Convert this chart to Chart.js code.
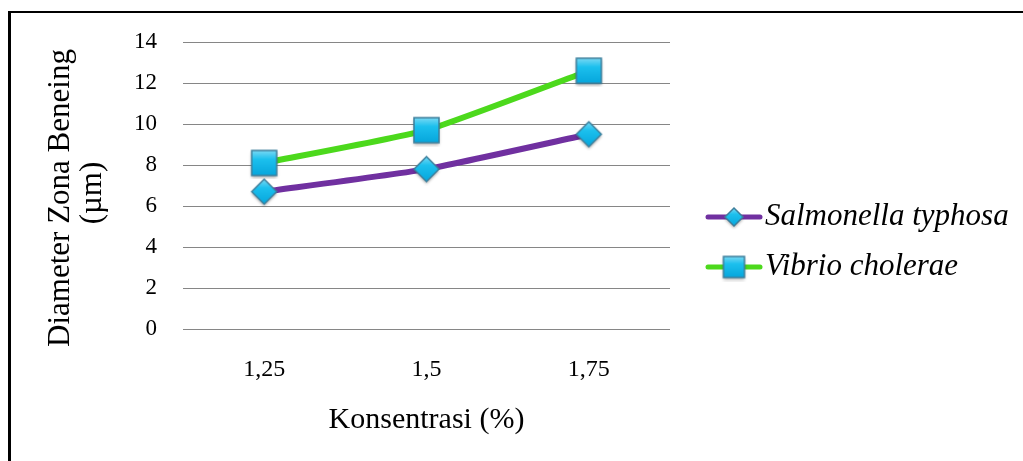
<!DOCTYPE html>
<html>
<head>
<meta charset="utf-8">
<script src="https://cdn.jsdelivr.net/npm/chart.js@4.4.1/dist/chart.umd.min.js"></script>
<style>
  html, body { margin: 0; padding: 0; background: #fff; overflow: hidden; }
  #wrap { position: relative; width: 1023px; height: 461px; }
  #frame { position: absolute; left: 8px; top: 11px; width: 1100px; height: 500px;
           border-left: 3px solid #000; border-top: 2px solid #000; pointer-events: none; }
  canvas { position: absolute; left: 0; top: 0; }
</style>
</head>
<body>
<div id="wrap">
  <canvas id="c" width="1023" height="461"></canvas>
  <div id="frame"></div>
</div>
<script>
const categories = ['1,25', '1,5', '1,75'];
const salmonellaValues = [6.7, 7.8, 9.5];
const vibrioValues = [8.1, 9.7, 12.6];
const seriesNames = ['Salmonella typhosa', 'Vibrio cholerae'];
const yTicks = [0, 2, 4, 6, 8, 10, 12, 14];
const yTitle = ['Diameter Zona Beneing', '(\u00b5m)'];
const xTitle = 'Konsentrasi (%)';

const FONT = '"Liberation Serif", "Times New Roman", serif';

function makeMarker(kind, size) {
  const pad = 4;
  const cv = document.createElement('canvas');
  cv.width = size + pad * 2; cv.height = size + pad * 2;
  const g = cv.getContext('2d');
  const c = cv.width / 2, h = size / 2;
  function path() {
    g.beginPath();
    if (kind === 'square') {
      g.rect(c - h, c - h, size, size);
    } else {
      g.moveTo(c, c - h); g.lineTo(c + h, c); g.lineTo(c, c + h); g.lineTo(c - h, c); g.closePath();
    }
  }
  g.save();
  g.shadowColor = 'rgba(0,0,0,0.35)'; g.shadowBlur = 3; g.shadowOffsetY = 2;
  path();
  const grad = g.createLinearGradient(0, c - h, 0, c + h);
  grad.addColorStop(0, '#7ad9f4');
  grad.addColorStop(0.35, '#1cc0ee');
  grad.addColorStop(1, '#06a6dc');
  g.fillStyle = grad; g.fill();
  g.restore();
  path();
  g.lineWidth = 1.5; g.strokeStyle = '#3d7f9c'; g.stroke();
  return cv;
}

const squareImg = makeMarker('square', 25);
const diamondImg = makeMarker('diamond', 25);
const squareSmall = makeMarker('square', 21);
const diamondSmall = makeMarker('diamond', 18);

const legendPlugin = {
  id: 'customLegend',
  afterDraw(chart) {
    const ctx = chart.ctx;
    const items = [
      { color: '#7030a0', img: diamondSmall, name: seriesNames[0], y: 217 },
      { color: '#4cd91c', img: squareSmall, name: seriesNames[1], y: 267 }
    ];
    ctx.save();
    items.forEach(it => {
      ctx.beginPath();
      ctx.moveTo(708, it.y); ctx.lineTo(760, it.y);
      ctx.lineWidth = 5; ctx.strokeStyle = it.color; ctx.lineCap = 'round'; ctx.stroke();
      ctx.drawImage(it.img, 734 - it.img.width / 2, it.y - it.img.height / 2);
      ctx.font = 'italic 31px ' + FONT;
      ctx.fillStyle = '#000';
      ctx.textBaseline = 'middle';
      ctx.textAlign = 'left';
      ctx.fillText(it.name, 765, it.y);
    });
    ctx.restore();
  }
};

const yTitlePlugin = {
  id: 'yTitle',
  afterDraw(chart) {
    const ctx = chart.ctx;
    ctx.save();
    ctx.font = '31px ' + FONT;
    ctx.fillStyle = '#000';
    ctx.textAlign = 'center';
    ctx.textBaseline = 'middle';
    const pos = [[61, 198], [93, 193]];
    yTitle.forEach((t, i) => {
      ctx.save();
      ctx.translate(pos[i][0], pos[i][1]);
      ctx.rotate(-Math.PI / 2);
      ctx.fillText(t, 0, 0);
      ctx.restore();
    });
    ctx.restore();
  }
};

new Chart(document.getElementById('c'), {
  type: 'line',
  data: {
    labels: categories,
    datasets: [
      {
        label: seriesNames[0],
        data: salmonellaValues,
        borderColor: '#7030a0',
        borderWidth: 6,
        tension: 0.15,
        pointStyle: diamondImg,
        pointRadius: 13
      },
      {
        label: seriesNames[1],
        data: vibrioValues,
        borderColor: '#4cd91c',
        borderWidth: 6,
        tension: 0.15,
        pointStyle: squareImg,
        pointRadius: 13
      }
    ]
  },
  options: {
    responsive: false,
    animation: false,
    layout: { padding: { left: 0, right: 353, top: 42, bottom: 0 } },
    plugins: { legend: { display: false }, tooltip: { enabled: false } },
    scales: {
      x: {
        offset: true,
        grid: { display: false, drawTicks: false },
        border: { display: false },
        ticks: { color: '#000', font: { family: FONT, size: 24 }, padding: 26 },
        title: { display: true, text: xTitle, color: '#000', font: { family: FONT, size: 30 }, padding: { top: 0, bottom: 23 } },
        afterFit(s) { s.height = 132; }
      },
      y: {
        min: 0, max: 14,
        afterBuildTicks(s) { s.ticks = yTicks.map(v => ({ value: v })); },
        grid: { color: '#868686', lineWidth: 1, drawTicks: false },
        border: { display: false },
        ticks: { color: '#000', font: { family: FONT, size: 23 }, padding: 26 },
        afterFit(s) { s.width = 183; }
      }
    }
  },
  plugins: [legendPlugin, yTitlePlugin]
});
</script>
</body>
</html>
